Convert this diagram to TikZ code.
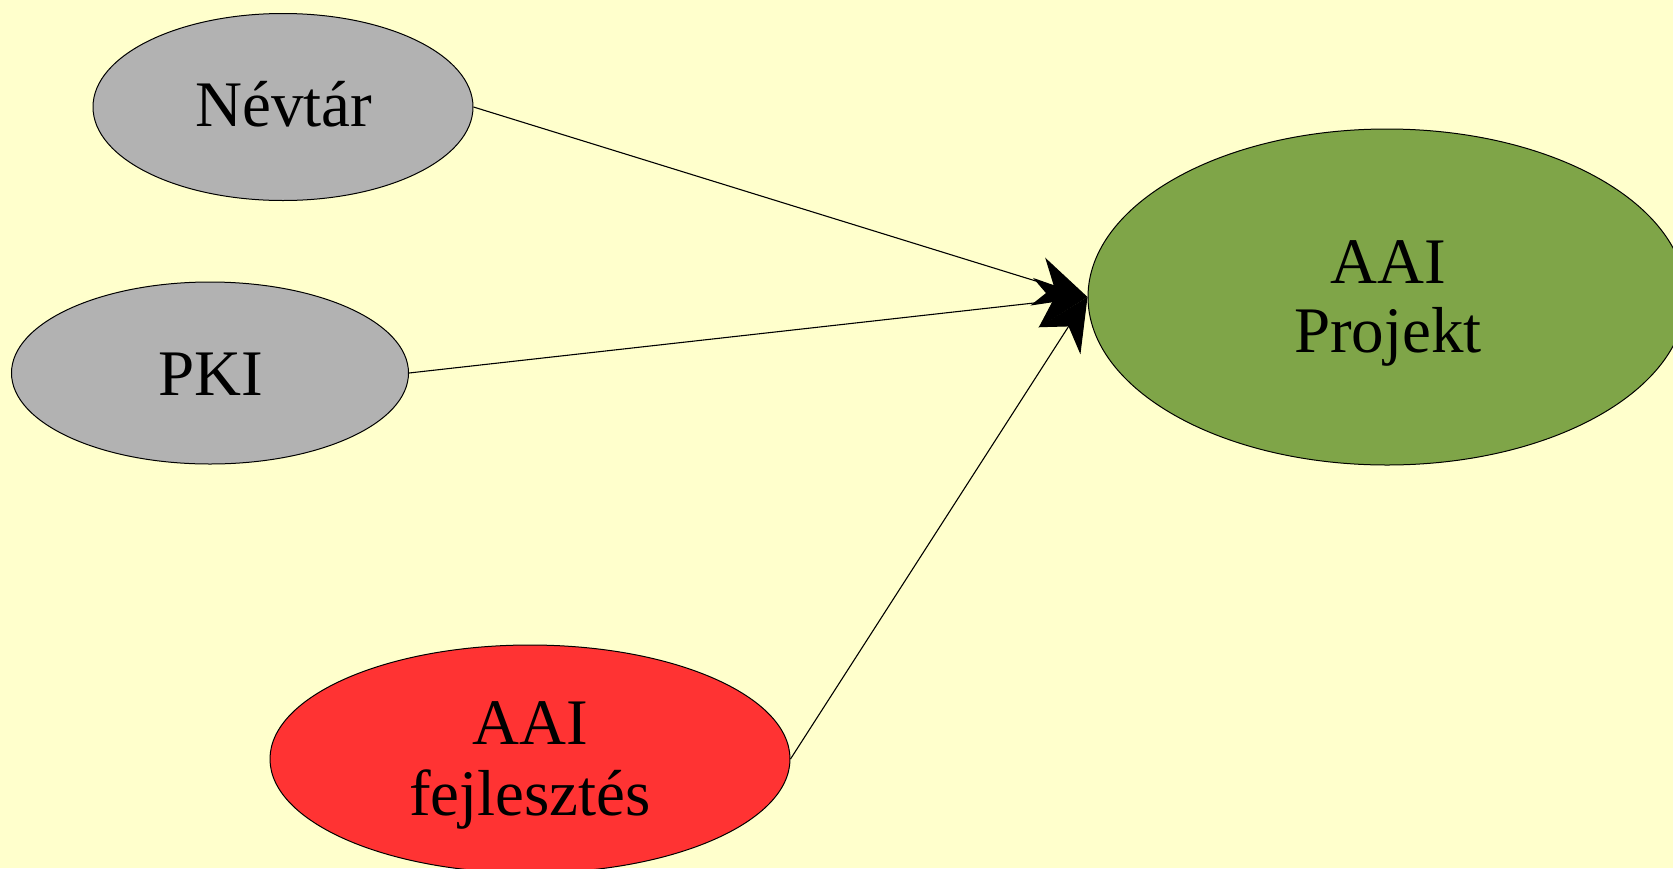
\documentclass[tikz,border=0pt]{standalone}
\usepackage{fontspec}
\setmainfont{Liberation Serif}
\usetikzlibrary{shapes.geometric,arrows.meta}
\definecolor{bgyellow}{HTML}{FFFFCC}
\definecolor{nodegray}{HTML}{B2B2B2}
\definecolor{nodegreen}{HTML}{7FA548}
\definecolor{nodered}{HTML}{FF3333}
\tikzset{
  oval/.style={ellipse, draw=black, line width=1pt, inner sep=0pt},
  lbl/.style={anchor=base, inner sep=0pt, font=\fontsize{65}{70}\selectfont},
  conn/.style={line width=1.1pt, -{Stealth[length=52pt, width=50pt, inset=17pt]}},
}
\begin{document}
\begin{tikzpicture}[x=1pt, y=-1pt]
\useasboundingbox (0,0) rectangle (1673,868);
\fill[bgyellow] (0,0) rectangle (1673,868);
\begin{scope}
\clip (0,0) rectangle (1673,868);
\node[oval, fill=nodegray, minimum width=380pt, minimum height=187pt] (nev) at (283,107) {};
\node[oval, fill=nodegray, minimum width=397pt, minimum height=182pt] (pki) at (210,373) {};
\node[oval, fill=nodered, minimum width=520pt, minimum height=228pt] (fej) at (530,759) {};
\node[oval, fill=nodegreen, minimum width=598pt, minimum height=336pt] (proj) at (1387,297) {};
\end{scope}
\node[lbl] (tnev) at (284,126) {Névtár};
\node[lbl] (tpki) at (211,395) {PKI};
\node[lbl] (tfej1) at (530,744) {AAI};
\node[lbl] (tfej2) at (530,815) {fejlesztés};
\node[lbl] (tproj1) at (1388,283) {AAI};
\node[lbl] (tproj2) at (1388,352) {Projekt};
\draw[conn] (nev.east) -- (proj.west);
\draw[conn] (pki.east) -- (proj.west);
\draw[conn] (fej.east) -- (proj.west);
\end{tikzpicture}
\end{document}
